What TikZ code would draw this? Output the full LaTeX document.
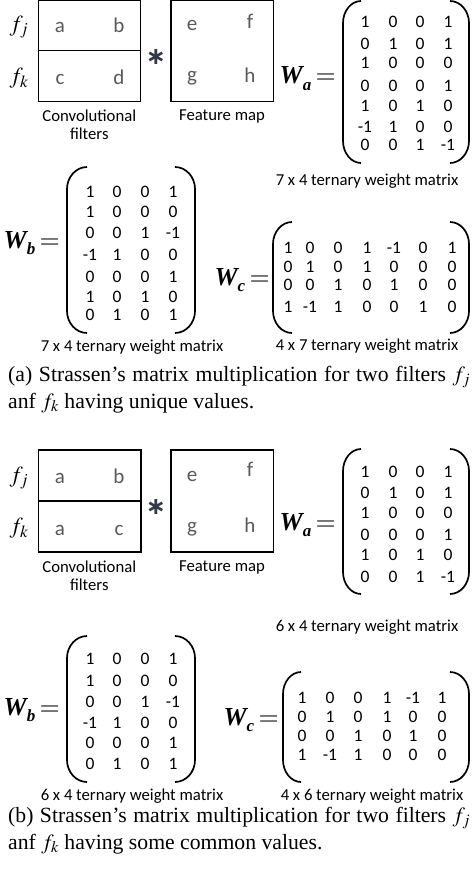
\documentclass[tikz,border=0pt]{standalone}
\usepackage{mathptmx}
\usepackage{fontspec}
\setmainfont{Liberation Serif}
\newfontfamily\calibri{Carlito}
\newfontfamily\djv{DejaVu Sans}
\definecolor{lettergray}{RGB}{89,89,89}
\definecolor{astgray}{RGB}{50,58,72}
\newcommand\wlab[1]{{\fontsize{26}{28}\selectfont\bfseries\itshape W\raisebox{-0.26em}{\fontsize{17}{17}\selectfont #1}\,$=$}}
\newcommand\lpar[4]{\draw[paren] (#1+#4,#2) .. controls (#1+0.45*#4,#2) and (#1,#2+10) .. (#1,#2+22) -- (#1,#3-22) .. controls (#1,#3-10) and (#1+0.45*#4,#3) .. (#1+#4,#3);}
\newcommand\rpar[4]{\draw[paren] (#1-#4,#2) .. controls (#1-0.45*#4,#2) and (#1,#2+10) .. (#1,#2+22) -- (#1,#3-22) .. controls (#1,#3-10) and (#1-0.45*#4,#3) .. (#1-#4,#3);}
\newcommand\matrows[3]{%
  \foreach \yy/\rr [count=\i] in {#3} {
    \foreach \vv [count=\j] in \rr {
      \pgfmathsetmacro\xx{{#2}[\j-1]}
      \node[num, name=#1-\i-\j] at (\xx,\yy) {\vv};
    }}}
\begin{document}
\begin{tikzpicture}[x=1pt,y=-1pt,
  lbl/.style={font=\calibri\fontsize{16.7}{18}\selectfont, inner sep=0, align=center},
  num/.style={font=\calibri\fontsize{17.5}{20}\selectfont, inner sep=0},
  ent/.style={font=\calibri\fontsize{21}{24}\selectfont, text=lettergray, inner sep=0, anchor=base},
  fl/.style={font=\fontsize{23}{26}\selectfont, inner sep=0},
  astk/.style={font=\djv\bfseries\fontsize{24}{26}\selectfont, text=astgray, inner sep=0},
  wl/.style={inner sep=0, anchor=base east},
  captxt/.style={font=\fontsize{21.7}{26}\selectfont, inner sep=0, anchor=base west},
  box/.style={line width=1.2pt},
  paren/.style={line width=1.7pt}]
\useasboundingbox (0,0) rectangle (473,869);

% ---------------- panel (a) ----------------
\draw[box] (38.3,0.5) rectangle (140.7,101.7);
\draw[box] (38.3,50.7) -- (140.7,50.7);
\draw[box] (171,0.5) rectangle (273.3,101.7);
\node[ent, name=A-a] at (60,33) {a};
\node[ent, name=A-b] at (119,33) {b};
\node[ent, name=A-c] at (60,85) {c};
\node[ent, name=A-d] at (119,85) {d};
\node[ent, name=A-e] at (192,31) {e};
\node[ent, name=A-f] at (250,29) {f};
\node[ent, name=A-g] at (192,82) {g};
\node[ent, name=A-h] at (250,83) {h};
\node[fl, name=A-fj] at (19,27) {$f_j$};
\node[fl, name=A-fk] at (19,78) {$f_k$};
\node[astk, name=A-ast] at (156,57) {∗};
\node[lbl, name=A-conv] at (89.3,125) {Convolutional\\filters};
\node[lbl, name=A-feat] at (222,116) {Feature map};

\node[wl, name=A-wa] at (336,84) {\wlab{a}};
\lpar{343}{1}{163}{18}
\rpar{469}{1}{163}{19}
\matrows{Awa}{365,393,420,448}{22/{1,0,0,1},44/{0,1,0,1},63/{1,0,0,0},86/{0,0,0,1},106/{1,0,1,0},127/{-1,1,0,0},145/{0,0,1,-1}}
\node[lbl, name=A-wacap] at (367,181) {7 x 4 ternary weight matrix};

\node[wl, name=A-wb] at (60,248) {\wlab{b}};
\lpar{67}{167}{333}{20}
\rpar{195}{167}{333}{20}
\matrows{Awb}{90,117,145,173}{192/{1,0,0,1},212/{1,0,0,0},233/{0,0,1,-1},255/{-1,1,0,0},277/{0,0,0,1},297/{1,0,1,0},315/{0,1,0,1}}
\node[lbl, name=A-wbcap] at (132,347) {7 x 4 ternary weight matrix};

\node[wl, name=A-wc] at (270,285) {\wlab{c}};
\lpar{273}{222}{333}{19}
\rpar{469}{222}{333}{19}
\matrows{Awc}{288,310,338,367,394,423,452}{248/{1,0,0,1,-1,0,1},267/{0,1,0,1,0,0,0},285/{0,0,1,0,1,0,0},307/{1,-1,1,0,0,1,0}}
\node[lbl, name=A-wccap] at (367,346) {4 x 7 ternary weight matrix};

\node[captxt, name=A-cap1] at (8,381) {\makebox[462pt][s]{(a) Strassen's matrix multiplication for two filters $f_j$}};
\node[captxt, name=A-cap2] at (8,408) {anf $f_k$ having unique values.};

% ---------------- panel (b) ----------------
\draw[box] (38.3,450) rectangle (141,552);
\draw[box] (38.3,501) -- (141,501);
\draw[box] (171,450) rectangle (273.3,552);
\node[ent, name=B-a] at (60,483) {a};
\node[ent, name=B-b] at (119,483) {b};
\node[ent, name=B-a2] at (60,535) {a};
\node[ent, name=B-c] at (119,535) {c};
\node[ent, name=B-e] at (192,481) {e};
\node[ent, name=B-f] at (250,476) {f};
\node[ent, name=B-g] at (192,532) {g};
\node[ent, name=B-h] at (250,532) {h};
\node[fl, name=B-fj] at (19,478) {$f_j$};
\node[fl, name=B-fk] at (19,528) {$f_k$};
\node[astk, name=B-ast] at (156,507) {∗};
\node[lbl, name=B-conv] at (89.3,575.5) {Convolutional\\filters};
\node[lbl, name=B-feat] at (222,567) {Feature map};

\node[wl, name=B-wa] at (336,530) {\wlab{a}};
\lpar{343}{449}{594}{18}
\rpar{469}{449}{594}{19}
\matrows{Bwa}{365,393,420,448}{472/{1,0,0,1},493/{0,1,0,1},513/{1,0,0,0},535/{0,0,0,1},555/{1,0,1,0},577/{0,0,1,-1}}
\node[lbl, name=B-wacap] at (367,627) {6 x 4 ternary weight matrix};

\node[wl, name=B-wb] at (60,715) {\wlab{b}};
\lpar{67}{636}{782}{20}
\rpar{195}{636}{782}{20}
\matrows{Bwb}{90,117,145,173}{659/{1,0,0,1},681/{1,0,0,0},702/{0,0,1,-1},723/{-1,1,0,0},743/{0,0,0,1},764/{0,1,0,1}}
\node[lbl, name=B-wbcap] at (132,796) {6 x 4 ternary weight matrix};

\node[wl, name=B-wc] at (279,725) {\wlab{c}};
\lpar{283}{672}{782}{18}
\rpar{469}{672}{782}{19}
\matrows{Bwc}{302,330,358,387,413,442}{698/{1,0,0,1,-1,1},717/{0,1,0,1,0,0},736/{0,0,1,0,1,0},755/{1,-1,1,0,0,0}}
\node[lbl, name=B-wccap] at (372,796) {4 x 6 ternary weight matrix};

\node[captxt, name=B-cap1] at (8,822) {\makebox[462pt][s]{(b) Strassen's matrix multiplication for two filters $f_j$}};
\node[captxt, name=B-cap2] at (8,849) {anf $f_k$ having some common values.};
\end{tikzpicture}
\end{document}
